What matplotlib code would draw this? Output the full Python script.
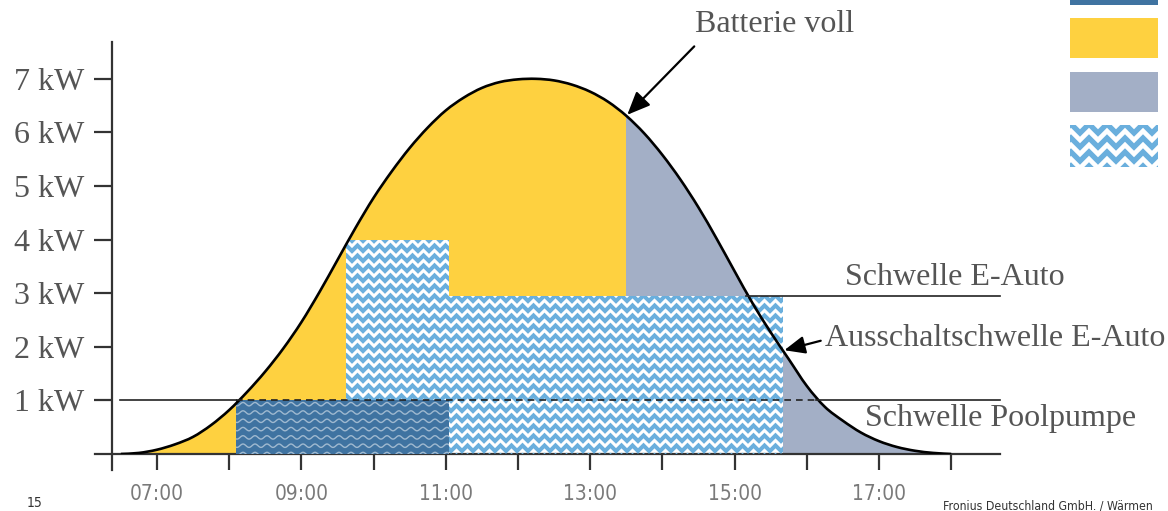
import numpy as np
import matplotlib
matplotlib.use("Agg")
import matplotlib.pyplot as plt
from matplotlib.collections import LineCollection
from matplotlib.patches import Rectangle, PathPatch
from matplotlib.path import Path

# PV production over the day (hour, kW)
hours = [6.50, 6.75, 7.00, 7.25, 7.50, 7.75, 8.00, 8.25, 8.50, 8.75,
         9.00, 9.25, 9.50, 9.75, 10.00, 10.25, 10.50, 10.75, 11.00, 11.25,
         11.50, 11.75, 12.00, 12.25, 12.50, 12.75, 13.00, 13.25, 13.50, 13.75,
         14.00, 14.25, 14.50, 14.75, 15.00, 15.25, 15.50, 15.75, 16.00, 16.25,
         16.50, 16.75, 17.00, 17.25, 17.50, 17.75, 18.00]
pv_kw = [0.00, 0.02, 0.08, 0.18, 0.32, 0.54, 0.82, 1.16, 1.54, 1.97,
         2.46, 3.02, 3.62, 4.22, 4.78, 5.27, 5.71, 6.09, 6.41, 6.65,
         6.83, 6.94, 6.99, 7.00, 6.97, 6.89, 6.76, 6.57, 6.31, 5.98,
         5.58, 5.12, 4.60, 4.02, 3.41, 2.81, 2.27, 1.77, 1.27, 0.88,
         0.62, 0.40, 0.24, 0.13, 0.06, 0.02, 0.00]

battery_full = 13.5

# loads switched on (step, post)
load_times = [8.10, 9.62, 11.05, 15.67]
pool_kw = [1.0, 1.0, 0.0, 0.0]
ev_kw = [0.0, 3.0, 2.95, 0.0]

pool_threshold = 1.0
ev_threshold = 2.95
pool_cross = [8.10, 16.13]
ev_cross = 15.16

ytick_vals = [1, 2, 3, 4, 5, 6, 7]
xtick_vals = [7, 8, 9, 10, 11, 12, 13, 14, 15, 16, 17, 18]

c_yellow = "#FED140"
c_grey = "#A3AFC6"
c_pool = "#3F73A1"
c_ev = "#6AAFDD"
c_text = "#555555"

serif = ["Liberation Serif", "DejaVu Serif"]
narrow = dict(family=["DejaVu Sans"], fontstretch="condensed")

W, H = 1168, 511
fig = plt.figure(figsize=(W / 100, H / 100), dpi=100)
ax = fig.add_axes([112 / W, 57 / H, 888 / W, 412 / H])
ax.set_xlim(6.377, 18.676)
ax.set_ylim(0, 7.687)


def smooth_path(x, y, close_to=None):
    """Catmull-Rom spline through the read points, as a bezier Path"""
    p = np.column_stack([x, y])
    ext = np.vstack([p[0], p, p[-1]])
    verts = [p[0]]
    codes = [Path.MOVETO]
    for i in range(1, len(ext) - 2):
        p0, p1, p2, p3 = ext[i - 1], ext[i], ext[i + 1], ext[i + 2]
        verts += [p1 + (p2 - p0) / 6, p2 - (p3 - p1) / 6, p2]
        codes += [Path.CURVE4] * 3
    if close_to is not None:
        verts += [(x[-1], close_to), (x[0], close_to), (x[0], close_to)]
        codes += [Path.LINETO, Path.LINETO, Path.CLOSEPOLY]
    return Path(np.array(verts), codes)


def chevrons(axis, bbox, clip_path, clip_trans, color, cw, period, lw, zorder):
    """herringbone texture drawn as thick zigzag lines, clipped to a shape"""
    inv = axis.transData.inverted()
    x0, y0, x1, y1 = bbox.extents
    half = cw / 2
    xs = np.arange(np.floor(x0 / cw) * cw - cw, x1 + cw, half)
    ups = (np.round(xs / half) % 2) * half
    segs = []
    for base in np.arange(np.floor(y0 / period) * period - period, y1 + period, period):
        pts = np.column_stack([xs, base + ups])
        segs.append(inv.transform(pts))
    lc = LineCollection(segs, colors=color, linewidths=lw, zorder=zorder,
                        capstyle="butt", joinstyle="miter")
    axis.add_collection(lc)
    lc.set_clip_path(clip_path, clip_trans)


def waves(axis, patch, color, period, row, amp, lw, zorder, alpha):
    inv = axis.transData.inverted()
    x0, y0, x1, y1 = patch.get_window_extent().extents
    xs = np.arange(x0 - period, x1 + period, 0.5)
    segs = []
    for base in np.arange(y0 - row, y1 + row, row):
        pts = np.column_stack([xs, base + amp * np.sin(2 * np.pi * xs / period)])
        segs.append(inv.transform(pts))
    lc = LineCollection(segs, colors=color, linewidths=lw, zorder=zorder, alpha=alpha)
    axis.add_collection(lc)
    lc.set_clip_path(patch)


# PV area: yellow until battery is full, grey afterwards
area = PathPatch(smooth_path(hours, pv_kw, close_to=0), facecolor=c_yellow,
                 lw=0, zorder=1)
ax.add_patch(area)
grid_feed = Rectangle((battery_full, 0), hours[-1] - battery_full, max(pv_kw),
                      facecolor=c_grey, lw=0, zorder=1.5)
ax.add_patch(grid_feed)
grid_feed.set_clip_path(area)

fig.canvas.draw()
renderer = fig.canvas.get_renderer()

# E-Auto (stacked on pool pump)
total_kw = np.array(pool_kw) + np.array(ev_kw)
ev_area = ax.fill_between(load_times[1:], 0, total_kw[1:], step="post",
                          facecolor="white", lw=0, zorder=2)
ev_bbox = ev_area.get_window_extent(renderer)
chevrons(ax, ev_bbox, ev_area.get_paths()[0], ax.transData, c_ev, 11, 10, 2.9, 3)

# pool pump
pool_rect = Rectangle((load_times[0], 0), load_times[2] - load_times[0], pool_kw[0],
                      facecolor=c_pool, lw=0, zorder=4)
ax.add_patch(pool_rect)
waves(ax, pool_rect, "white", 12, 8.3, 1.7, 1.0, 5, 0.5)

# PV curve
ax.add_patch(PathPatch(smooth_path(hours, pv_kw), fill=False, edgecolor="black",
                       lw=1.9, zorder=6))

# thresholds
ax.plot([6.49, pool_cross[0]], [pool_threshold] * 2, color="#222222", lw=1.2, zorder=6)
ax.plot(pool_cross, [pool_threshold] * 2, color="#222222", lw=1.2, ls=(0, (4, 3)), zorder=6)
ax.plot([pool_cross[1], 18.676], [pool_threshold] * 2, color="#222222", lw=1.2,
        zorder=6, clip_on=False)
ax.plot([ev_cross, 18.676], [ev_threshold] * 2, color="#222222", lw=1.2,
        zorder=6, clip_on=False)

# annotations
tk = dict(family=serif, fontsize=23, color=c_text)
ax.annotate("Batterie voll", xy=(battery_full, pv_kw[hours.index(battery_full)]),
            xytext=(15.56, 8.02), ha="center", va="center", annotation_clip=False,
            arrowprops=dict(arrowstyle="-|>,head_length=0.7,head_width=0.3",
                            color="black", lw=1.6, mutation_scale=20,
                            relpos=(0.04, 0.0), shrinkA=5, shrinkB=1), **tk)
ax.text(18.05, 3.30, "Schwelle E-Auto", ha="center", va="center", clip_on=False, **tk)
ax.annotate("Ausschaltschwelle E-Auto",
            xy=(load_times[3], np.interp(load_times[3], hours, pv_kw)),
            xytext=(16.25, 2.16), ha="left", va="center", annotation_clip=False,
            arrowprops=dict(arrowstyle="-|>,head_length=0.7,head_width=0.3",
                            color="black", lw=1.6, mutation_scale=18,
                            relpos=(0.0, 0.45), shrinkA=1, shrinkB=1), **tk)
ax.text(18.68, 0.67, "Schwelle Poolpumpe", ha="center", va="center", clip_on=False, **tk)

# axes
for s in ["top", "right"]:
    ax.spines[s].set_visible(False)
ax.spines["left"].set_bounds(-0.3, 7.687)
ax.spines["bottom"].set_bounds(6.14, 18.676)
for s in ["left", "bottom"]:
    ax.spines[s].set_linewidth(1.6)
    ax.spines[s].set_color("#333333")
ax.set_yticks(ytick_vals)
ax.set_yticklabels([f"{v} kW" for v in ytick_vals], family=serif, fontsize=23,
                   color=c_text)
ax.set_xticks(xtick_vals)
ax.set_xticklabels([f"{h:02d}:00" if h % 2 else "" for h in xtick_vals],
                   fontsize=15, color="#7a7a7a", **narrow)
ax.tick_params(axis="y", direction="out", length=13, width=1.6, color="#333333", pad=7)
ax.tick_params(axis="x", direction="out", length=11.5, width=1.6, color="#333333", pad=10)
ax.patch.set_alpha(0)

# legend swatches (labels cut off in the source)
lax = fig.add_axes([1070 / W, 1 - 170 / H, 88 / W, 170 / H])
lax.set_xlim(0, 1)
lax.set_ylim(170, 0)
lax.axis("off")
swatch_rows = [(-35, 5), (18, 58), (72, 112), (125, 167)]
swatch_cols = [c_pool, c_yellow, c_grey, None]
for (y0, y1), col in zip(swatch_rows, swatch_cols):
    r = Rectangle((0, y0), 1, y1 - y0, facecolor=col if col else "white", lw=0)
    lax.add_patch(r)
    if col is None:
        chevrons(lax, r.get_window_extent(renderer), r, None, c_ev, 18, 14, 3.8, 3)

fig.text(35 / W, 1 - 503 / H, "15", fontsize=10, color="#333333",
         ha="center", va="center", **narrow)
fig.text(943 / W, 1 - 506 / H, "Fronius Deutschland GmbH. / Wärmen",
         fontsize=8.8, color="#333333", ha="left", va="center", **narrow)

fig.savefig("out.png", dpi=100)
